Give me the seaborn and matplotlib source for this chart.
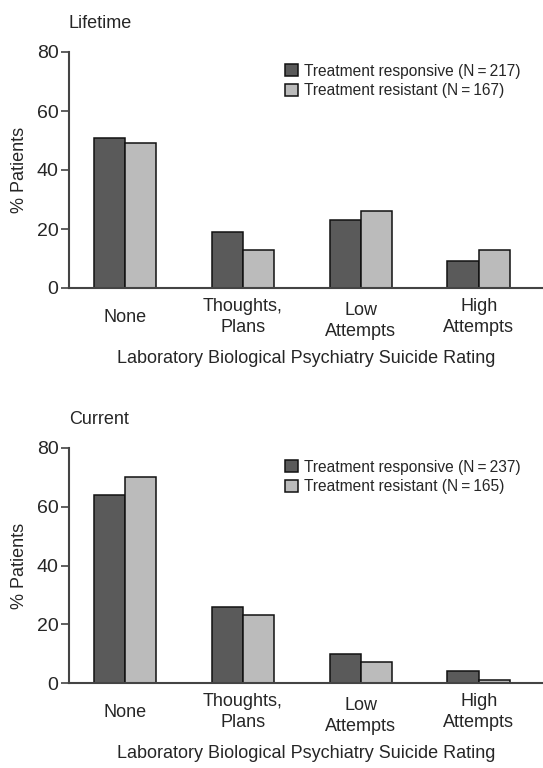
import matplotlib
matplotlib.use("Agg")
import matplotlib.pyplot as plt
import matplotlib.transforms as mtransforms
import seaborn as sns
import pandas as pd

categories = ["None", "Thoughts,\nPlans", "Low\nAttempts", "High\nAttempts"]
groups = ["Treatment responsive", "Treatment resistant"]

lifetime_responsive = [51, 19, 23, 9]
lifetime_resistant = [49, 13, 26, 13]
lifetime_n = [217, 167]

current_responsive = [64, 26, 10, 4]
current_resistant = [70, 23, 7, 1]
current_n = [237, 165]

panel_titles = ["Lifetime", "Current"]
yticks = [0, 20, 40, 60, 80]

sns.set_theme(style="ticks")
plt.rcParams["font.family"] = ["Liberation Sans", "DejaVu Sans"]

colors = ["#5a5a5a", "#bbbbbb"]

fig = plt.figure(figsize=(5.43, 7.68), dpi=100)
ax_top = fig.add_axes([69/543, 1-288/768, 1-69/543, 236/768])
ax_bot = fig.add_axes([69/543, 1-683/768, 1-69/543, 235/768])

panels = [
    (ax_top, panel_titles[0], lifetime_responsive, lifetime_resistant, lifetime_n),
    (ax_bot, panel_titles[1], current_responsive, current_resistant, current_n),
]

for ax, title, resp, resist, ns in panels:
    labels = [f"{groups[0]} (N\u2009=\u2009{ns[0]})", f"{groups[1]} (N\u2009=\u2009{ns[1]})"]
    df = pd.DataFrame({
        "Category": categories * 2,
        "Group": [labels[0]] * 4 + [labels[1]] * 4,
        "Value": resp + resist,
    })
    sns.barplot(data=df, x="Category", y="Value", hue="Group", order=categories,
                hue_order=labels, palette=colors, width=0.53, edgecolor="#111111",
                linewidth=1.1, saturation=1, ax=ax)
    ax.set_ylim(0, 80)
    ax.set_xlim(-0.475, 3.545)
    ax.set_yticks(yticks)
    ax.tick_params(axis="y", length=6, width=1.2, color="#444444", labelsize=14, pad=1.5)
    ax.tick_params(axis="x", length=0, labelsize=13, pad=21)
    for lbl in ax.get_xticklabels():
        lbl.set_verticalalignment("center")
        lbl.set_linespacing(1.3)
    xl = ax.get_xticklabels()
    xl[2].set_transform(xl[2].get_transform() + mtransforms.ScaledTranslation(0, -4/100, fig.dpi_scale_trans))
    for s in ["top", "right"]:
        ax.spines[s].set_visible(False)
    for s in ["left", "bottom"]:
        ax.spines[s].set_color("#444444")
        ax.spines[s].set_linewidth(1.5)
    ax.set_ylabel("% Patients", fontsize=13)
    ax.yaxis.set_label_coords(-0.087, 0.5)
    ax.set_xlabel("Laboratory Biological Psychiatry Suicide Rating", fontsize=13)
    ax.xaxis.set_label_coords(0.5, -0.262)
    ax.set_title(title, loc="left", fontsize=13, pad=17)
    leg = ax.legend(loc="upper right", bbox_to_anchor=(0.972, 0.99), frameon=False,
                    fontsize=11.2, handlelength=0.8, handleheight=0.8, handletextpad=0.4,
                    labelspacing=0.3, borderaxespad=0.2)

fig.savefig("out.png", dpi=100)
